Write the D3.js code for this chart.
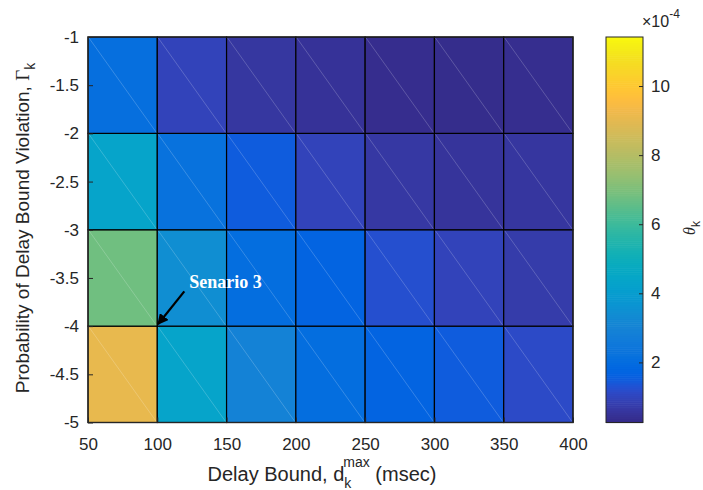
<!DOCTYPE html>
<meta charset="utf-8">
<body style="margin:0;background:#fff">
<script src="https://cdn.jsdelivr.net/npm/d3@7"></script>
<script>
  // cell edges
  var xEdges = [50, 100, 150, 200, 250, 300, 350, 400];
  var yEdges = [-5, -4, -3, -2, -1];
  // theta_k (x1e-4), one row per y band, bottom band first
  var row5to4 = [9.1, 4.35, 2.95, 2.05, 1.7, 1.5, 1.15];
  var row4to3 = [6.8, 3.45, 2.05, 1.7, 1.25, 0.97, 0.75];
  var row3to2 = [4.33, 2.2, 1.5, 0.97, 0.65, 0.55, 0.6];
  var row2to1 = [2.1, 0.97, 0.62, 0.5, 0.36, 0.34, 0.38];
  var xTicks = [50, 100, 150, 200, 250, 300, 350, 400];
  var yTicks = [-1, -1.5, -2, -2.5, -3, -3.5, -4, -4.5, -5];
  var cbTicks = [2, 4, 6, 8, 10];
  var cbDomain = [0.26, 11.42];

  var parula = ["#352a87","#363093","#3637a0","#353dad","#3243ba","#2c4ac7","#2053d4","#0f5cdd","#0363e1","#0268e1","#046ddf","#0872dd","#0d75db","#1079da","#127dd8","#1481d6","#1485d4","#1389d3","#108ed2","#0c93d2","#0998d1","#079ccf","#06a0cd","#06a4ca","#06a7c6","#07a9c2","#0aacbe","#0faeb9","#15b1b4","#1db3af","#25b5a9","#2eb7a4","#38b99e","#42bb98","#4dbc92","#59bd8c","#65be86","#71bf80","#7cbf7b","#87bf77","#92bf73","#9cbf6f","#a5be6b","#aebe67","#b7bd64","#c0bc60","#c8bc5d","#d1bb59","#d9ba56","#e1b952","#e9b94e","#f1b94a","#f8bb44","#fdbe3d","#ffc337","#fec832","#fccd2e","#fad32a","#f7d826","#f5de21","#f5e41d","#f5eb18","#f6f113","#f9f90e"];
  var color = d3.scaleSequential(d3.piecewise(d3.interpolateRgb, parula)).domain(cbDomain);

  var svg = d3.select("body").append("svg")
      .attr("width", 703)
      .attr("height", 490)
      .style("font-family", "'Liberation Sans', Arial, sans-serif");

  var x = d3.scaleLinear().domain([50, 400]).range([88, 573]);
  var y = d3.scaleLinear().domain([-5, -1]).range([422.5, 37]);

  var rows = [row5to4, row4to3, row3to2, row2to1];
  var cells = [];
  rows.forEach(function(r, j) {
    r.forEach(function(v, i) {
      cells.push({x0: xEdges[i], x1: xEdges[i + 1], y0: yEdges[j], y1: yEdges[j + 1], v: v});
    });
  });

  var g = svg.append("g");
  g.selectAll("rect.cell")
      .data(cells)
      .enter().append("rect")
      .attr("class", "cell")
      .attr("x", function(d) { return x(d.x0); })
      .attr("y", function(d) { return y(d.y1); })
      .attr("width", function(d) { return x(d.x1) - x(d.x0); })
      .attr("height", function(d) { return y(d.y0) - y(d.y1); })
      .attr("fill", function(d) { return color(d.v); })
      .attr("stroke", "#000")
      .attr("stroke-width", 1.2);

  // faint triangle seams, like the matlab render
  g.selectAll("line.seam")
      .data(cells)
      .enter().append("line")
      .attr("x1", function(d) { return x(d.x0) + 1; })
      .attr("y1", function(d) { return y(d.y1) + 1; })
      .attr("x2", function(d) { return x(d.x1) - 1; })
      .attr("y2", function(d) { return y(d.y0) - 1; })
      .attr("stroke", "#fff")
      .attr("stroke-opacity", 0.25)
      .attr("stroke-width", 0.8);

  // box
  svg.append("rect")
      .attr("x", x(50)).attr("y", y(-1))
      .attr("width", x(400) - x(50)).attr("height", y(-5) - y(-1))
      .attr("fill", "none").attr("stroke", "#262626").attr("stroke-width", 1.2);

  var fmt = function(d) { return String(d); };
  var xAxis = svg.append("g")
      .attr("transform", "translate(0," + y(-5) + ")")
      .call(d3.axisBottom(x).tickValues(xTicks).tickFormat(fmt).tickSizeInner(-5).tickSizeOuter(0).tickPadding(15));
  var yAxis = svg.append("g")
      .attr("transform", "translate(" + x(50) + ",0)")
      .call(d3.axisLeft(y).tickValues(yTicks).tickFormat(fmt).tickSizeInner(-5).tickSizeOuter(0).tickPadding(9));
  [xAxis, yAxis].forEach(function(a) {
    a.select(".domain").remove();
    a.selectAll("line").attr("stroke", "#262626");
    a.selectAll("text").attr("fill", "#262626").style("font-size", "17px")
      .style("font-family", "'Liberation Sans', Arial, sans-serif");
  });

  // axis labels
  var xl = svg.append("text")
      .attr("x", 322).attr("y", 481)
      .attr("text-anchor", "middle")
      .attr("fill", "#262626")
      .style("font-size", "20px");
  xl.append("tspan").text("Delay Bound, d");
  xl.append("tspan").attr("dy", 7).style("font-size", "14px").text("k");
  xl.append("tspan").attr("dx", -8).attr("dy", -21).style("font-size", "14px").text("max");
  xl.append("tspan").attr("dy", 14).text(" (msec)");

  var yl = svg.append("text")
      .attr("transform", "translate(29,228) rotate(-90)")
      .attr("text-anchor", "middle")
      .attr("fill", "#262626")
      .style("font-size", "19px");
  yl.append("tspan").text("Probability of Delay Bound Violation, ");
  yl.append("tspan").style("font-family", "'Liberation Serif', serif").text("Γ");
  yl.append("tspan").attr("dy", 6).style("font-size", "14px").text("k");

  // colorbar
  var cb = d3.scaleLinear().domain(cbDomain).range([422.5, 37]);
  var cbX = 606, cbW = 37;
  var steps = d3.range(0, 200);
  svg.append("g").selectAll("rect")
      .data(steps)
      .enter().append("rect")
      .attr("x", cbX)
      .attr("y", function(i) { return cb(cbDomain[0] + (i + 1) * (cbDomain[1] - cbDomain[0]) / 200); })
      .attr("width", cbW)
      .attr("height", (422.5 - 37) / 200 + 0.6)
      .attr("fill", function(i) { return color(cbDomain[0] + (i + 0.5) * (cbDomain[1] - cbDomain[0]) / 200); });
  svg.append("rect")
      .attr("x", cbX).attr("y", 37).attr("width", cbW).attr("height", 422.5 - 37)
      .attr("fill", "none").attr("stroke", "#262626").attr("stroke-width", 1);
  var cbAxis = svg.append("g")
      .attr("transform", "translate(" + (cbX + cbW) + ",0)")
      .call(d3.axisRight(cb).tickValues(cbTicks).tickSizeInner(-4).tickSizeOuter(0).tickPadding(8));
  cbAxis.select(".domain").remove();
  cbAxis.selectAll("line").attr("stroke", "#262626");
  cbAxis.selectAll("text").attr("fill", "#262626").style("font-size", "17px")
      .style("font-family", "'Liberation Sans', Arial, sans-serif");

  var ex = svg.append("text").attr("x", 642).attr("y", 27).attr("fill", "#262626").style("font-size", "16px");
  ex.append("tspan").text("×10");
  ex.append("tspan").attr("dy", -9).style("font-size", "12px").text("-4");

  var th = svg.append("text")
      .attr("transform", "translate(695,228) rotate(-90)")
      .attr("text-anchor", "middle")
      .attr("fill", "#262626")
      .style("font-size", "16px");
  th.append("tspan").style("font-family", "'Liberation Serif', serif").style("font-style", "italic").text("θ");
  th.append("tspan").attr("dy", 5).style("font-size", "12px").text("k");

  // annotation
  svg.append("defs").append("marker")
      .attr("id", "ah").attr("viewBox", "0 0 10 10").attr("refX", 9).attr("refY", 5)
      .attr("markerWidth", 5).attr("markerHeight", 5).attr("orient", "auto")
      .append("path").attr("d", "M0,0L10,5L0,10z").attr("fill", "#000");
  svg.append("line")
      .attr("x1", x(119.5)).attr("y1", y(-3.64))
      .attr("x2", x(100.5)).attr("y2", y(-3.98))
      .attr("stroke", "#000").attr("stroke-width", 2.2)
      .attr("marker-end", "url(#ah)");
  svg.append("text")
      .attr("x", x(123)).attr("y", y(-3.6))
      .attr("fill", "#fff")
      .style("font-family", "'Liberation Serif', 'Times New Roman', serif")
      .style("font-weight", "bold")
      .style("font-size", "18px")
      .text("Senario 3");
</script>
</body>
